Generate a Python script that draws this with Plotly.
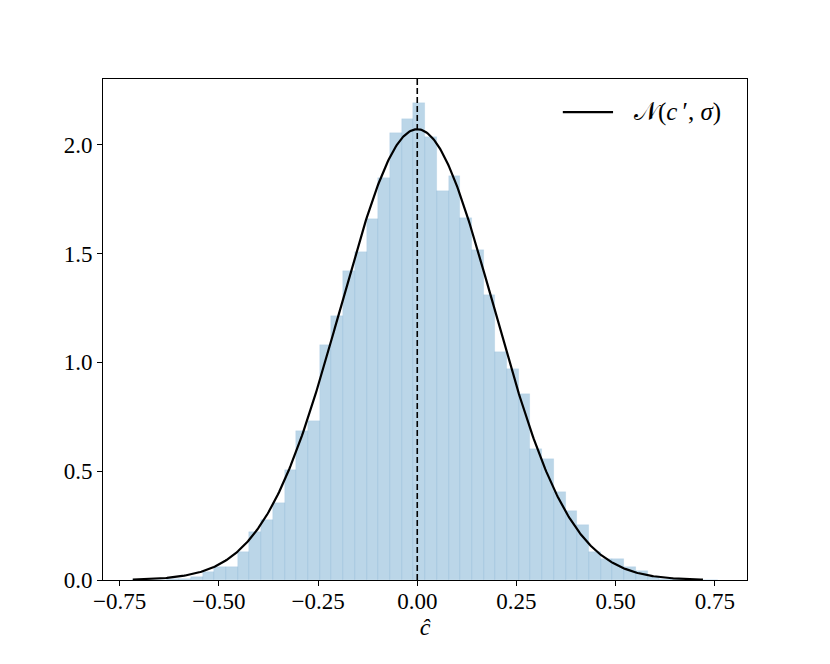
import numpy as np
import plotly.graph_objects as go

# Histogram (density) of c-hat, 50 equal bins
BIN_START = -0.718
BIN_WIDTH = 0.02951
density = [0.002, 0.0, 0.002, 0.003, 0.005, 0.012, 0.035, 0.061, 0.061, 0.127,
           0.222, 0.276, 0.352, 0.506, 0.685, 0.732, 1.080, 1.215, 1.420, 1.509,
           1.659, 1.849, 2.056, 2.119, 2.191, 2.035, 1.789, 1.858, 1.665, 1.515,
           1.310, 1.049, 0.970, 0.856, 0.601, 0.555, 0.403, 0.316, 0.251, 0.127,
           0.097, 0.095, 0.060, 0.040, 0.012, 0.006, 0.003, 0.002, 0.0, 0.002]

# Normal fit N(c', sigma)
MU = 0.0
SIGMA = 0.1926
CURVE_MIN = -0.717
CURVE_MAX = 0.720
LEGEND_LABEL = "\U0001D4A9(<i>c</i>\u2009\u2032, <i>\u03c3</i>)"

x_tickvals = [-0.75, -0.50, -0.25, 0.00, 0.25, 0.50, 0.75]
x_ticktext = ["\u22120.75", "\u22120.50", "\u22120.25", "0.00", "0.25", "0.50", "0.75"]
y_tickvals = [0.0, 0.5, 1.0, 1.5, 2.0]
y_ticktext = ["0.0", "0.5", "1.0", "1.5", "2.0"]

centers = [BIN_START + (i + 0.5) * BIN_WIDTH for i in range(len(density))]
xs = np.linspace(CURVE_MIN, CURVE_MAX, 500)
pdf = np.exp(-0.5 * ((xs - MU) / SIGMA) ** 2) / (SIGMA * np.sqrt(2 * np.pi))

FONT = "Liberation Serif"

fig = go.Figure()
fig.add_trace(go.Bar(
    x=centers, y=density, width=BIN_WIDTH,
    marker=dict(color="rgba(31,119,180,0.3)",
                line=dict(width=0.6, color="rgba(31,119,180,0.12)")),
    showlegend=False, hoverinfo="skip",
))
fig.add_trace(go.Scatter(
    x=xs, y=pdf, mode="lines",
    line=dict(color="black", width=2.2),
    name=LEGEND_LABEL, showlegend=False,
))
fig.add_shape(type="line", x0=MU, x1=MU, y0=0, y1=1, xref="x", yref="paper",
              line=dict(color="black", width=1.6, dash="6px,3px"))

# legend (line sample + label), drawn in the upper right of the axes
fig.add_shape(type="line", xref="paper", yref="paper",
              x0=0.714, x1=0.792, y0=0.934, y1=0.934,
              line=dict(color="black", width=2.2))
fig.add_annotation(xref="paper", yref="paper", x=0.821, y=0.934,
                   xanchor="left", yanchor="middle", showarrow=False,
                   text=LEGEND_LABEL, font=dict(family=FONT, size=25))

fig.update_layout(
    width=830, height=664,
    margin=dict(l=95, r=91, t=71, b=92),
    plot_bgcolor="white", paper_bgcolor="white",
    font=dict(family=FONT, size=23, color="black"),
    bargap=0, barmode="overlay",
    showlegend=False,
)
fig.update_xaxes(
    range=[-0.792, 0.831], tickvals=x_tickvals, ticktext=x_ticktext,
    showline=True, linecolor="black", linewidth=1, mirror=True,
    ticks="outside", ticklen=5, tickwidth=1, tickcolor="black",
    ticklabelstandoff=-5,
    showgrid=False, zeroline=False,
    title=dict(text="<i>\u0109</i>", font=dict(family=FONT, size=24), standoff=4),
)
fig.update_yaxes(
    range=[0, 2.302], tickvals=y_tickvals, ticktext=y_ticktext,
    showline=True, linecolor="black", linewidth=1, mirror=True,
    ticks="outside", ticklen=5, tickwidth=1, tickcolor="black",
    showgrid=False, zeroline=False,
)

fig.write_html("out.html")
